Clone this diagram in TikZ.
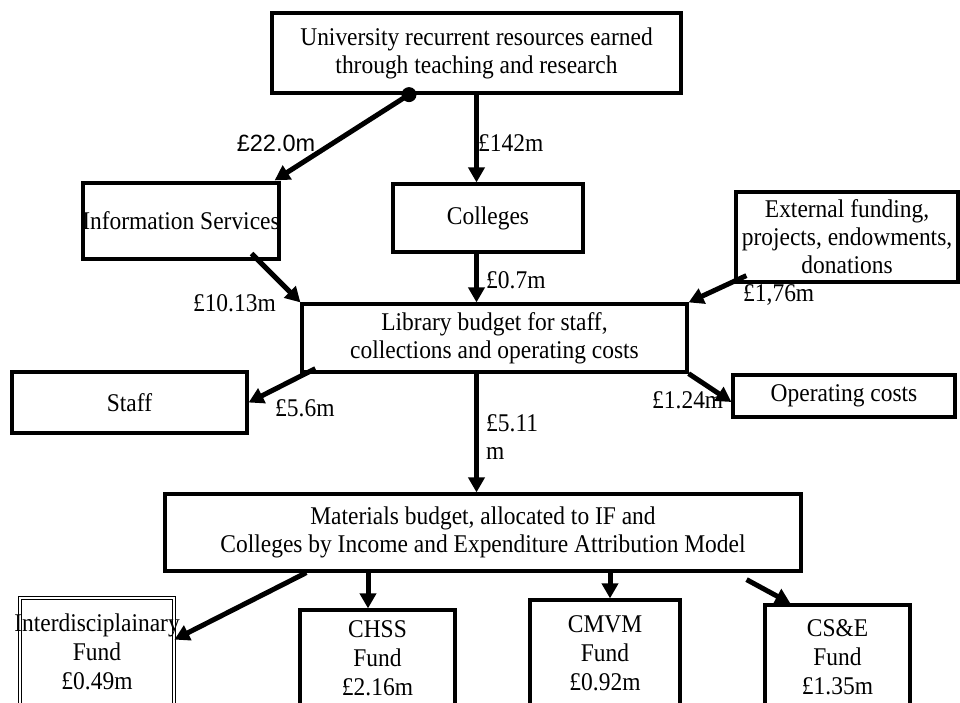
\documentclass[tikz,border=0pt]{standalone}
\usepackage{fontspec}
\setmainfont{Liberation Serif}[FakeStretch=0.92]
\newfontfamily\sansamt{Liberation Sans}
\usetikzlibrary{arrows.meta,calc}

\tikzset{
  box/.style={draw, line width=3.2pt, inner sep=0pt, align=center,
    font=\fontsize{25.5}{28}\selectfont},
  fundbox/.style={box, font=\fontsize{25.5}{29}\selectfont},
  amt/.style={inner sep=0pt, font=\fontsize{25.5}{28}\selectfont},
  flow/.style={line width=5pt, -{Triangle[length=15pt,width=16pt]}},
}

\begin{document}
\begin{tikzpicture}[x=1pt,y=-1pt]
    \clip (0,0) rectangle (960,702);
    % boxes
    \node[box,minimum width=409pt,minimum height=80pt] (uni) at (476.5,53)
      {University recurrent resources earned\\through teaching and research};
    \node[box,minimum width=196pt,minimum height=76pt] (info) at (181,221)
      {\makebox[180pt]{Information Services}};
    \node[box,minimum width=190pt,minimum height=68pt] (colleges) at (488,218) {Colleges};
    \node[box,minimum width=222pt,minimum height=90pt] (ext) at (847,237)
      {External funding,\\projects, endowments,\\donations};
    \node[box,minimum width=385pt,minimum height=68pt] (library) at (494.5,338)
      {Library budget for staff,\\collections and operating costs};
    \node[box,minimum width=235pt,minimum height=61pt] (staff) at (129.5,402.5) {Staff};
    \node[box,minimum width=222pt,minimum height=42pt] (opcost) at (844,396) {Operating costs};
    \node[box,minimum width=636pt,minimum height=77pt] (materials) at (483,532.5)
      {Materials budget, allocated to IF and\\Colleges by Income and Expenditure Attribution Model};
    \node[fundbox,draw=black,line width=0.8pt,double,double distance=2pt,
      minimum width=154pt,minimum height=108pt] (interdisc) at (97,652)
      {\makebox[140pt]{Interdisciplainary}\\Fund\\£0.49m};
    \node[fundbox,minimum width=155pt,minimum height=96pt] (chss) at (377.5,658)
      {CHSS\\Fund\\£2.16m};
    \node[fundbox,minimum width=150pt,minimum height=106pt] (cmvm) at (605,653)
      {CMVM\\Fund\\£0.92m};
    \node[fundbox,minimum width=145pt,minimum height=104pt] (cse) at (837.5,657)
      {CS\&E\\Fund\\£1.35m};

    % amounts
    \node[amt,font=\sansamt\fontsize{23.5}{28}\selectfont] (l220) at (276,143) {£22.0m};
    \node[amt,anchor=west] (l142) at (478,143) {£142m};
    \node[amt,anchor=east] (l1013) at (276,303) {£10.13m};
    \node[amt,anchor=west] (l07) at (486,280) {£0.7m};
    \node[amt,anchor=west] (l176) at (743,295) {£1,76m};
    \node[amt,anchor=west] (l56) at (275,408) {£5.6m};
    \node[amt,anchor=west] (l124) at (652,400) {£1.24m};
    \node[amt,anchor=north west,align=left] (l511) at (486,414) {£5.11\\m};

    % from the university
    \coordinate (split) at ($(uni.south)+(-67.5,0)$);
    \fill (split) circle (7.5pt);
    \path[flow]
    (split) edge ($(info.north east)+(-6,-1)$)
    (uni.south) edge (uni.south |- colleges.north)
    % into the library
    ($(info.south east)+(-29,-7)$) edge (library.north west)
    (uni.south |- colleges.south) edge (uni.south |- library.north)
    ($(ext.south west)+(12,-8)$) edge (library.north east)
    % out of the library
    ($(library.south west)+(15,-5)$) edge (staff.east)
    (library.south east) edge ($(opcost.west)+(0,6)$)
    (uni.south |- library.south) edge (uni.south |- materials.north)
    % to the funds
    ($(materials.south west)+(143,0)$) edge ($(interdisc.north east)+(0,42)$)
    ($(materials.south -| chss.north)+(-9.5,0)$) edge ($(chss.north)+(-9.5,0)$)
    ($(materials.south -| cmvm.north)+(5,0)$) edge ($(cmvm.north)+(5,0)$)
    ($(materials.south east)+(-56,7)$) edge ($(cse.north west)+(27,0)$);
\end{tikzpicture}
\end{document}
